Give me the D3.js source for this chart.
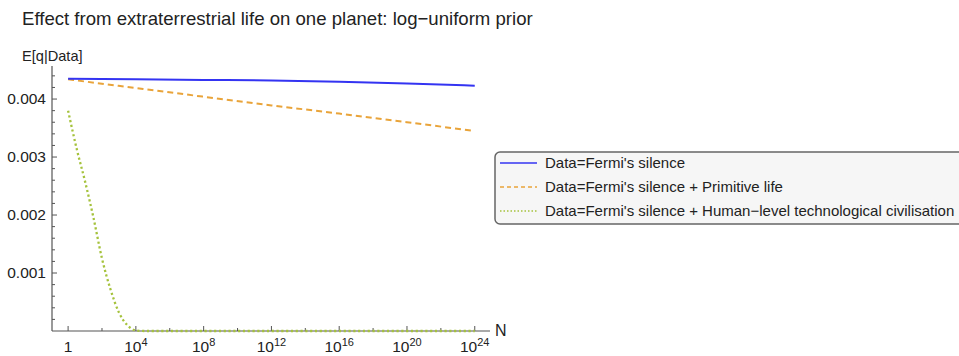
<!DOCTYPE html>
<html>
<head>
<meta charset="utf-8">
<script src="https://cdn.jsdelivr.net/npm/d3@7"></script>
<style>
  body { margin: 0; background: #fff; }
  svg { display: block; font-family: "Liberation Sans", Arial, sans-serif; }
</style>
</head>
<body>
<svg id="chart" width="959" height="356"></svg>
<script>
// exponents of N (N = 10^e) and E[q|Data]
var blueExp = [0, 4, 8, 12, 16, 20, 24];
var blueVal = [0.00435, 0.00434, 0.00433, 0.00432, 0.00430, 0.00427, 0.00423];

var orangeExp = [0, 4, 8, 12, 16, 20, 24];
var orangeVal = [0.00434, 0.00419, 0.00404, 0.00389, 0.00375, 0.00360, 0.00345];

var greenExp = [0, 0.5, 1, 1.5, 2, 2.5, 3, 3.5, 4, 4.5, 6, 12, 18, 24];
var greenVal = [0.0038, 0.00315, 0.00258, 0.00195, 0.00125, 0.00072, 0.00032, 0.0001, 0.00001, 0, 0, 0, 0, 0];

var yTicks = [0.001, 0.002, 0.003, 0.004];
var xTickExp = [0, 4, 8, 12, 16, 20, 24];
var legendLabels = [
  "Data=Fermi's silence",
  "Data=Fermi's silence + Primitive life",
  "Data=Fermi's silence + Human\u2212level technological civilisation"
];

const svg = d3.select('#chart');
const axisColor = '#555';
const textColor = '#222';

const x = d3.scaleLog().domain([Math.pow(10, -0.95), Math.pow(10, 24.9)]).range([52, 490]);
const y = d3.scaleLinear().domain([0, 0.00457]).range([331, 66]);

// title + y label
svg.append('text').attr('x', 22).attr('y', 25).attr('font-size', 18.6).attr('fill', textColor)
  .text('Effect from extraterrestrial life on one planet: log\u2212uniform prior');
svg.append('text').attr('x', 22).attr('y', 61).attr('font-size', 14.6).attr('fill', textColor)
  .text('E[q|Data]');

// axes lines
svg.append('line').attr('x1', 52).attr('x2', 52).attr('y1', y.range()[1]).attr('y2', 331)
  .attr('stroke', axisColor).attr('stroke-width', 1.2);
svg.append('line').attr('x1', 52).attr('x2', 490).attr('y1', 331).attr('y2', 331)
  .attr('stroke', axisColor).attr('stroke-width', 1.2);

// y ticks (major + minor, pointing in)
d3.range(1, 23).forEach(function (i) {
  var v = i * 0.0002;
  var major = i % 5 === 0;
  svg.append('line').attr('x1', 52).attr('x2', 52 + (major ? 5 : 3))
    .attr('y1', y(v)).attr('y2', y(v)).attr('stroke', axisColor).attr('stroke-width', 1);
});
yTicks.forEach(function (v) {
  svg.append('text').attr('x', 46).attr('y', y(v)).attr('dy', '0.35em')
    .attr('text-anchor', 'end').attr('font-size', 15.5).attr('fill', textColor)
    .text(d3.format('.3f')(v));
});

// x ticks
d3.range(0, 25, 2).forEach(function (e) {
  var major = e % 4 === 0;
  var px = x(Math.pow(10, e));
  svg.append('line').attr('x1', px).attr('x2', px).attr('y1', 331).attr('y2', 331 - (major ? 5 : 3))
    .attr('stroke', axisColor).attr('stroke-width', 1);
});
xTickExp.forEach(function (e) {
  var px = x(Math.pow(10, e));
  var t = svg.append('text').attr('x', px).attr('y', 352).attr('text-anchor', 'middle')
    .attr('font-size', 15.5).attr('fill', textColor);
  if (e === 0) {
    t.text('1');
  } else {
    t.append('tspan').text('10');
    t.append('tspan').attr('dy', -6).attr('font-size', 11).text(e);
  }
});
svg.append('text').attr('x', 495).attr('y', 336).attr('font-size', 16).attr('fill', textColor).text('N');

// series
const line = d3.line()
  .x(function (d) { return x(Math.pow(10, d[0])); })
  .y(function (d) { return y(d[1]); })
  .curve(d3.curveMonotoneX);

var series = [
  { exp: greenExp, val: greenVal, color: '#a5c23c', dash: '2.2,2.6', w: 2.3 },
  { exp: orangeExp, val: orangeVal, color: '#e9a43a', dash: '6,4', w: 2 },
  { exp: blueExp, val: blueVal, color: '#3434f2', dash: null, w: 2 }
];
series.forEach(function (s) {
  var pts = s.exp.map(function (e, i) { return [e, s.val[i]]; });
  svg.append('path').attr('d', line(pts)).attr('fill', 'none')
    .attr('stroke', s.color).attr('stroke-width', s.w)
    .attr('stroke-dasharray', s.dash);
});

// legend
const lg = svg.append('g').attr('transform', 'translate(495,152)');
lg.append('rect').attr('width', 470).attr('height', 72).attr('rx', 5)
  .attr('fill', '#f6f6f6').attr('stroke', '#666').attr('stroke-width', 1.5);
var legendStyle = [series[2], series[1], series[0]];
legendLabels.forEach(function (lab, i) {
  var cy = 11 + i * 24;
  lg.append('line').attr('x1', 5).attr('x2', 42).attr('y1', cy).attr('y2', cy)
    .attr('stroke', legendStyle[i].color).attr('stroke-width', 1.5)
    .attr('stroke-dasharray', i === 0 ? null : (i === 1 ? '4,3' : '1.5,2'));
  lg.append('text').attr('x', 50).attr('y', cy).attr('dy', '0.35em')
    .attr('font-size', 15).attr('fill', textColor).text(lab);
});
</script>
</body>
</html>
